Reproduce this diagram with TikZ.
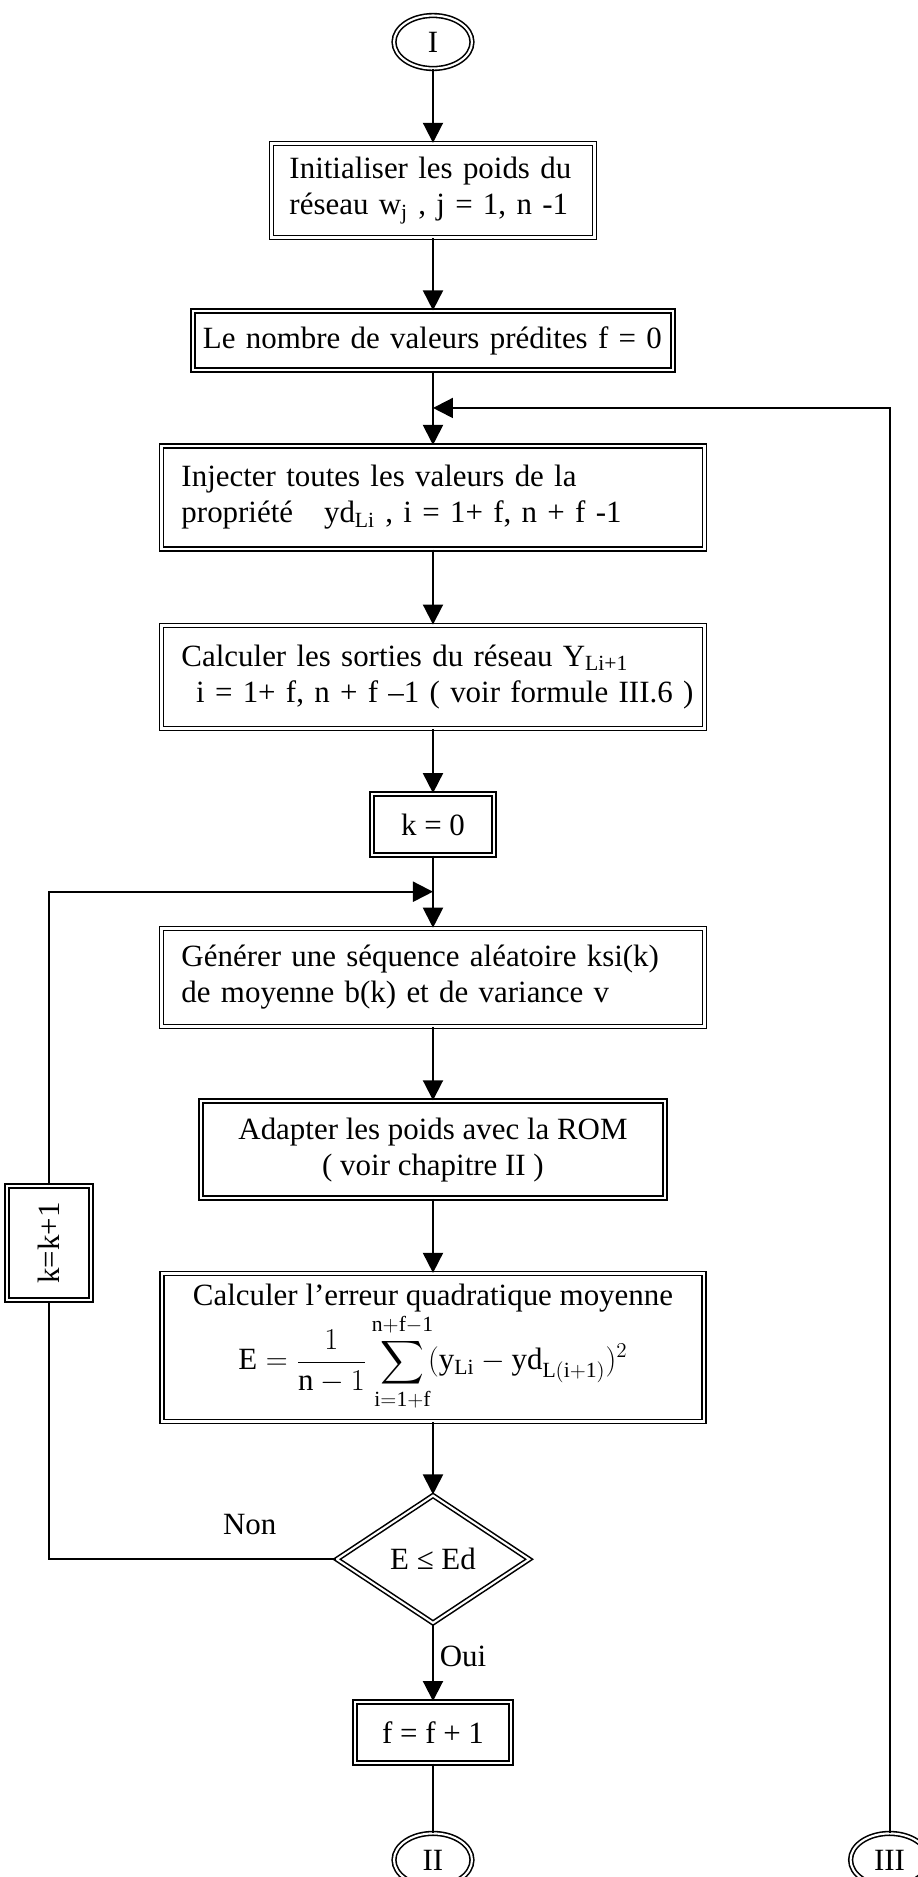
\documentclass[tikz,border=0pt]{standalone}
\usepackage{amsmath}
\usepackage{fontspec}
\setmainfont{Liberation Serif}
\usepackage{tikz}
\usetikzlibrary{arrows.meta,positioning,shapes.geometric,calc}

\newcommand{\flowfont}{\fontsize{17.6}{20.5}\selectfont}

\begin{document}
\begin{tikzpicture}[
  node distance=1.45cm,
  box/.style={draw, double, double distance=1.4pt, line width=0.9pt, inner xsep=0.4cm, font=\flowfont, align=left},
  cbox/.style={box, align=center},
  term/.style={draw, double, double distance=1.2pt, line width=0.9pt, ellipse, minimum width=1.56cm, minimum height=1.06cm, inner sep=0pt, font=\flowfont},
  decision/.style={draw, double, double distance=1.2pt, line width=0.9pt, diamond, minimum width=3.86cm, minimum height=2.56cm, inner sep=0pt, font=\flowfont},
  arrow/.style={-{Triangle[length=4mm,width=4mm]}, line width=1.1pt},
  link/.style={line width=1.1pt},
  lbl/.style={font=\flowfont}
]
\useasboundingbox (-8.66,0.84) rectangle (9.70,-36.70);

\node[term] (I) {I};
\node[box, below=1.47cm of I, inner xsep=0.36cm, text width=5.74cm, minimum height=1.88cm] (init) {Initialiser les poids du\\ réseau w\textsubscript{j} , j = 1, n -1};
\node[box, below=1.44cm of init, inner xsep=0.2cm, text width=9.2cm, minimum height=1.18cm] (count) {Le nombre de valeurs prédites f = 0};
\node[box, below=1.48cm of count, text width=10.06cm, minimum height=2.06cm] (inject) {Injecter toutes les valeurs de la\\ propriété\ \ \ yd\textsubscript{Li}\ , i = 1+ f, n + f -1};
\node[box, below=1.50cm of inject, inner xsep=0.28cm, text width=10.3cm, minimum height=2.06cm] (outputs) {\hspace*{0.12cm}Calculer les sorties du réseau Y\textsubscript{Li+1}\\ \mbox{\ \ i = 1+ f, n + f –1 ( voir formule III.6 )}};
\node[cbox, below=1.28cm of outputs, minimum width=2.44cm, minimum height=1.22cm] (k0) {k = 0};
\node[box, below=1.44cm of k0, text width=10.06cm, minimum height=1.96cm] (gen) {Générer une séquence aléatoire ksi(k)\\ de moyenne b(k) et de variance v};
\node[cbox, below=1.46cm of gen, minimum width=9.28cm, minimum height=1.94cm] (adapt) {Adapter les poids avec la ROM\\ ( voir chapitre II )};
\node[cbox, below=1.48cm of adapt, minimum width=10.84cm, minimum height=2.96cm] (mse) {Calculer l’erreur quadratique moyenne\\ $\displaystyle \mathrm{E}=\frac{1}{\mathrm{n}-1}\sum_{\mathrm{i=1+f}}^{\mathrm{n+f-1}}\!(\mathrm{y}_{\mathrm{Li}}-\mathrm{yd}_{\mathrm{L(i+1)}})^{2}$};
\node[decision, below=1.44cm of mse] (test) {E ≤ Ed};
\node[cbox, below=1.54cm of test, minimum width=3.12cm, minimum height=1.22cm] (fnext) {f = f + 1};
\node[term, below=1.38cm of fnext] (II) {II};
\node[term, right=7.54cm of II] (III) {III};
\node[cbox, inner sep=0pt, minimum width=1.68cm, minimum height=2.28cm] (inc) at (-7.68,-24.02) {\rotatebox{90}{k=k+1}};

\coordinate (jtop) at ($(count.south)!0.5!(inject.north)$);
\coordinate (jbot) at ($(k0.south)!0.5!(gen.north)$);

\draw[arrow] (I) -- (init);
\draw[arrow] (init) -- (count);
\draw[arrow] (count) -- (inject);
\draw[arrow] (inject) -- (outputs);
\draw[arrow] (outputs) -- (k0);
\draw[arrow] (k0) -- (gen);
\draw[arrow] (gen) -- (adapt);
\draw[arrow] (adapt) -- (mse);
\draw[arrow] (mse) -- (test);
\draw[arrow] (test) -- node[lbl, right, pos=0.42]{Oui} (fnext);
\draw[link] (fnext) -- (II);
\draw[arrow] (III.north) |- (jtop);
\draw[link] (test.west) -| node[lbl, above=3.6mm, pos=0.15]{Non} (inc.south);
\draw[arrow] (inc.north) |- (jbot);
\end{tikzpicture}
\end{document}
